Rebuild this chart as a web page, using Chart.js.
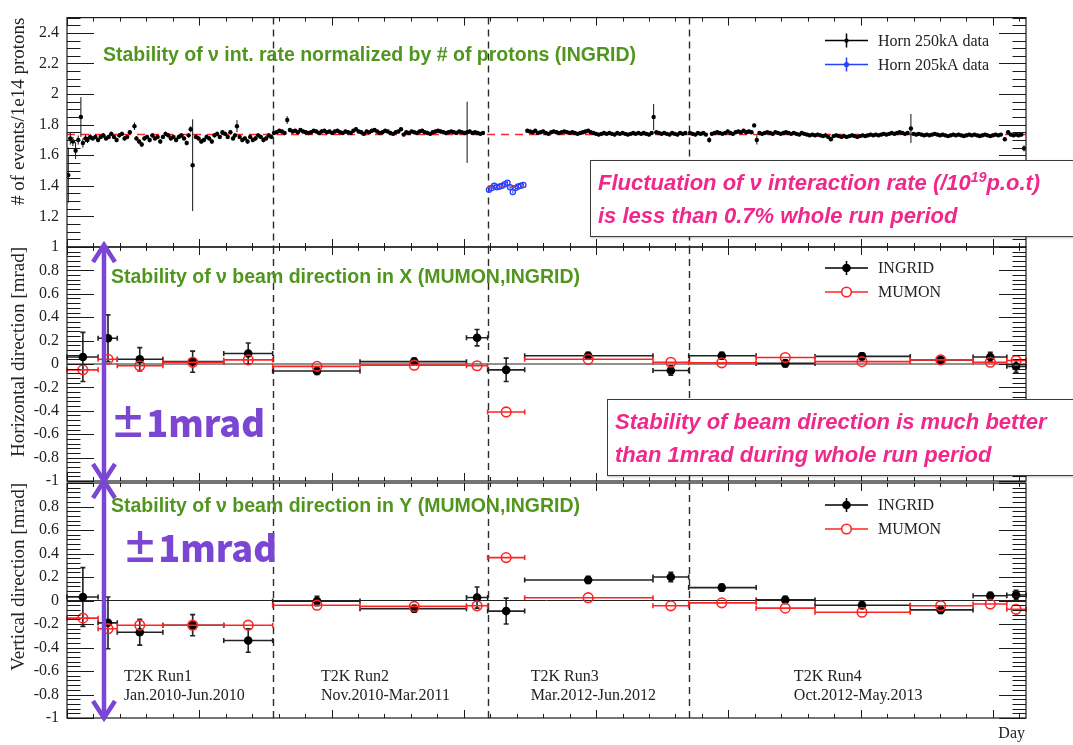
<!DOCTYPE html>
<html>
<head>
<meta charset="utf-8">
<title>T2K beam stability</title>
<script src="https://cdn.jsdelivr.net/npm/chart.js@4.4.1/dist/chart.umd.min.js"></script>
<style>
  html, body { margin: 0; padding: 0; background: #fff; }
  #wrap { position: relative; width: 1073px; height: 745px; overflow: hidden; background: #fff; }
  #wrap canvas { position: absolute; left: 0; top: 0; }
  .note { position: absolute; box-sizing: border-box; background: #fff; border: 1.5px solid #3c3c3c;
          box-shadow: 1px 1px 2px rgba(0,0,0,0.25); color: #f0288c;
          font: italic bold 22px "Liberation Sans", Arial, sans-serif; line-height: 33px;
          padding: 5px 0 0 7px; white-space: nowrap; }
  .note sup { font-size: 14px; line-height: 0; vertical-align: 8px; }
</style>
</head>
<body>
<div id="wrap">
  <canvas id="rate" width="1073" height="745"></canvas>
  <canvas id="dirx" width="1073" height="745"></canvas>
  <canvas id="diry" width="1073" height="745"></canvas>
  <div class="note" style="left:590px;top:160px;width:520px;height:77px;">Fluctuation of ν interaction rate (/10<sup>19</sup>p.o.t)<br>is less than 0.7% whole run period</div>
  <div class="note" style="left:607px;top:399px;width:520px;height:77px;">Stability of beam direction is much better<br>than 1mrad during whole run period</div>
</div>
<script>
// ---- time axis (days since start of Run1) ----
const DAY_MIN = 0, DAY_MAX = 1450;
const DAY_MAJOR = 200, DAY_MINOR_DIV = 5;
const RUN_BOUNDARY_DAY = [311, 636, 940];
const RUN_NAMES = ['T2K Run1', 'T2K Run2', 'T2K Run3', 'T2K Run4'];
const RUN_PERIODS = ['Jan.2010-Jun.2010', 'Nov.2010-Mar.2011', 'Mar.2012-Jun.2012', 'Oct.2012-May.2013'];
const RUN_LABEL_DAY = [86, 384, 701, 1099];

// ---- y tick labels ----
const RATE_TICKS = [1.2, 1.4, 1.6, 1.8, 2, 2.2, 2.4];
const DIRX_TICKS = [-1, -0.8, -0.6, -0.4, -0.2, 0, 0.2, 0.4, 0.6, 0.8, 1];
const DIRY_TICKS = [-1, -0.8, -0.6, -0.4, -0.2, 0, 0.2, 0.4, 0.6, 0.8];

// ---- interaction rate: [day, events / 1e14 protons, error] ----
const RATE_250_RUN1 = [
  [2,1.47,0.18],[5,1.71,0.04],[9,1.69,0.03],[13,1.63,0.055],[17,1.70,0.03],[21,1.85,0.13],[24,1.68,0.03],
  [28,1.71,0.025],[31,1.70,0.02],[35,1.72,0.02],[39,1.71,0.015],[43,1.72,0.015],[47,1.70,0.015],[51,1.72,0.015],
  [55,1.73,0.015],[59,1.71,0.015],[63,1.72,0.015],[67,1.74,0.015],[71,1.72,0.015],[75,1.70,0.015],[79,1.73,0.015],
  [83,1.74,0.015],[87,1.71,0.015],[91,1.72,0.015],[95,1.75,0.015],[102,1.79,0.025],[105,1.71,0.015],[109,1.69,0.015],
  [113,1.67,0.015],[117,1.71,0.015],[121,1.72,0.015],[125,1.70,0.015],[129,1.73,0.015],[133,1.71,0.015],[137,1.72,0.015],
  [141,1.69,0.015],[145,1.72,0.015],[149,1.74,0.015],[153,1.73,0.015],[157,1.71,0.015],[161,1.72,0.015],[165,1.70,0.015],
  [169,1.72,0.015],[173,1.73,0.015],[177,1.71,0.015],[181,1.68,0.015],[184,1.73,0.015],[187,1.77,0.02],[190,1.535,0.30],
  [195,1.72,0.015],[199,1.71,0.015],[203,1.69,0.015],[207,1.70,0.015],[211,1.72,0.015],[215,1.71,0.015],[219,1.69,0.015],
  [223,1.73,0.015],[227,1.74,0.015],[231,1.72,0.015],[235,1.75,0.015],[239,1.74,0.015],[243,1.72,0.015],[247,1.75,0.015],
  [251,1.71,0.015],[254,1.73,0.015],[257,1.79,0.04],[261,1.72,0.015],[265,1.70,0.015],[269,1.71,0.015],[273,1.69,0.015],
  [277,1.72,0.015],[281,1.70,0.015],[285,1.71,0.015],[289,1.73,0.015],[293,1.72,0.015],[297,1.70,0.015],[301,1.71,0.015],
  [305,1.73,0.015],[309,1.72,0.015]
];
const RATE_250_RUN2 = [
  [313,1.745,0.012],[317,1.75,0.012],[321,1.76,0.012],[325,1.755,0.012],[329,1.745,0.012],[333,1.83,0.025],[337,1.765,0.012],
  [341,1.755,0.012],[345,1.76,0.012],[349,1.75,0.012],[353,1.765,0.012],[357,1.755,0.012],[361,1.75,0.012],[365,1.745,0.012],
  [369,1.75,0.012],[373,1.76,0.012],[377,1.755,0.012],[381,1.745,0.012],[385,1.755,0.012],[389,1.76,0.012],[393,1.75,0.012],
  [397,1.755,0.012],[401,1.745,0.012],[405,1.755,0.012],[409,1.76,0.012],[413,1.75,0.012],[417,1.745,0.012],[421,1.755,0.012],
  [425,1.75,0.012],[429,1.745,0.012],[433,1.76,0.012],[437,1.77,0.012],[441,1.755,0.012],[445,1.75,0.012],[449,1.74,0.012],
  [453,1.755,0.012],[457,1.75,0.012],[461,1.76,0.012],[465,1.765,0.012],[469,1.755,0.012],[473,1.745,0.012],[477,1.75,0.012],
  [481,1.76,0.012],[485,1.755,0.012],[489,1.745,0.012],[493,1.74,0.012],[497,1.75,0.012],[501,1.755,0.012],[505,1.77,0.012],
  [509,1.735,0.012],[513,1.75,0.012],[517,1.745,0.012],[521,1.755,0.012],[525,1.75,0.012],[529,1.745,0.012],[533,1.755,0.012],
  [537,1.76,0.012],[541,1.75,0.012],[545,1.745,0.012],[549,1.74,0.012],[553,1.75,0.012],[557,1.755,0.012],[561,1.76,0.012],
  [565,1.755,0.012],[569,1.75,0.012],[573,1.745,0.012],[577,1.75,0.012],[581,1.755,0.012],[585,1.75,0.012],[589,1.745,0.012],
  [593,1.755,0.012],[597,1.75,0.012],[601,1.745,0.012],[605,1.75,0.2],[609,1.755,0.012],[613,1.745,0.012],[617,1.75,0.012],
  [621,1.745,0.012],[625,1.74,0.012],[629,1.745,0.012]
];
const RATE_250_RUN3 = [
  [696,1.76,0.012],[700,1.755,0.012],[704,1.75,0.012],[708,1.76,0.012],[712,1.745,0.012],[716,1.75,0.012],[720,1.755,0.012],
  [724,1.745,0.012],[728,1.74,0.012],[732,1.75,0.012],[736,1.755,0.012],[740,1.75,0.012],[744,1.745,0.012],[748,1.75,0.012],
  [752,1.755,0.012],[756,1.75,0.012],[760,1.745,0.012],[764,1.75,0.012],[768,1.745,0.012],[772,1.74,0.012],[776,1.745,0.012],
  [780,1.75,0.012],[784,1.755,0.012],[788,1.76,0.012],[792,1.75,0.012],[796,1.745,0.012],[800,1.74,0.012],[804,1.735,0.012],
  [808,1.74,0.012],[812,1.745,0.012],[816,1.74,0.012],[820,1.745,0.012],[824,1.74,0.012],[828,1.735,0.012],[832,1.745,0.012],
  [836,1.74,0.012],[840,1.745,0.012],[844,1.74,0.012],[848,1.735,0.012],[852,1.74,0.012],[856,1.745,0.012],[860,1.74,0.012],
  [864,1.745,0.012],[868,1.74,0.012],[872,1.745,0.012],[876,1.74,0.012],[880,1.735,0.012],[884,1.745,0.012],[887,1.85,0.085],
  [891,1.75,0.012],[895,1.745,0.012],[899,1.74,0.012],[903,1.745,0.012],[907,1.74,0.012],[911,1.735,0.012],[915,1.745,0.012],
  [919,1.74,0.012],[923,1.735,0.012],[927,1.745,0.012],[931,1.74,0.012],[935,1.745,0.012]
];
const RATE_250_RUN4 = [
  [942,1.745,0.012],[946,1.74,0.012],[950,1.735,0.012],[954,1.745,0.012],[958,1.74,0.012],[962,1.745,0.012],[966,1.735,0.012],
  [971,1.70,0.018],[975,1.74,0.012],[979,1.745,0.012],[983,1.75,0.012],[987,1.745,0.012],[991,1.74,0.012],[995,1.745,0.012],
  [999,1.755,0.012],[1003,1.745,0.012],[1007,1.74,0.012],[1011,1.75,0.012],[1015,1.755,0.012],[1019,1.75,0.012],[1023,1.76,0.012],
  [1027,1.75,0.012],[1031,1.755,0.012],[1035,1.75,0.012],[1039,1.795,0.012],[1043,1.70,0.03],[1047,1.745,0.012],[1051,1.74,0.012],
  [1055,1.745,0.012],[1059,1.75,0.012],[1063,1.745,0.012],[1067,1.74,0.012],[1071,1.75,0.012],[1075,1.745,0.012],[1079,1.74,0.012],
  [1083,1.745,0.012],[1087,1.75,0.012],[1091,1.745,0.012],[1095,1.74,0.012],[1099,1.745,0.012],[1103,1.74,0.012],[1107,1.735,0.012],
  [1111,1.745,0.012],[1115,1.74,0.012],[1119,1.735,0.012],[1123,1.73,0.012],[1127,1.735,0.012],[1131,1.73,0.012],[1135,1.735,0.012],
  [1139,1.73,0.012],[1143,1.725,0.012],[1147,1.73,0.012],[1151,1.72,0.012],[1155,1.705,0.012],[1159,1.725,0.012],[1163,1.73,0.012],
  [1167,1.725,0.012],[1171,1.72,0.012],[1175,1.725,0.012],[1179,1.72,0.012],[1183,1.725,0.012],[1187,1.73,0.012],[1191,1.725,0.012],
  [1195,1.72,0.012],[1199,1.725,0.012],[1203,1.73,0.012],[1207,1.725,0.012],[1211,1.73,0.012],[1215,1.735,0.012],[1219,1.73,0.012],
  [1223,1.735,0.012],[1227,1.73,0.012],[1231,1.735,0.012],[1235,1.74,0.012],[1239,1.735,0.012],[1243,1.74,0.012],[1247,1.745,0.012],
  [1251,1.74,0.012],[1255,1.745,0.012],[1259,1.75,0.012],[1263,1.745,0.012],[1267,1.74,0.012],[1271,1.745,0.012],[1276,1.775,0.095],
  [1280,1.74,0.012],[1284,1.735,0.012],[1288,1.74,0.012],[1292,1.735,0.012],[1296,1.73,0.012],[1300,1.735,0.012],[1304,1.73,0.012],
  [1308,1.735,0.012],[1312,1.74,0.012],[1316,1.735,0.012],[1320,1.73,0.012],[1324,1.735,0.012],[1328,1.73,0.012],[1332,1.725,0.012],
  [1336,1.73,0.012],[1340,1.735,0.012],[1344,1.73,0.012],[1348,1.735,0.012],[1352,1.73,0.012],[1356,1.725,0.012],[1360,1.73,0.012],
  [1364,1.735,0.012],[1368,1.73,0.012],[1372,1.735,0.012],[1376,1.73,0.012],[1380,1.725,0.012],[1384,1.73,0.012],[1388,1.735,0.012],
  [1392,1.73,0.012],[1396,1.725,0.012],[1400,1.73,0.012],[1404,1.735,0.012],[1408,1.73,0.012],[1412,1.735,0.012],[1418,1.705,0.012],
  [1423,1.75,0.012],[1427,1.735,0.012],[1431,1.73,0.012],[1435,1.735,0.012],[1439,1.73,0.012],[1443,1.735,0.012],[1447,1.645,0.02]
];
const RATE_205 = [
  [638,1.375,0.01],[642,1.385,0.01],[646,1.40,0.01],[650,1.39,0.01],[654,1.395,0.01],[658,1.40,0.01],[662,1.41,0.01],
  [666,1.42,0.01],[670,1.39,0.01],[674,1.36,0.01],[678,1.385,0.01],[682,1.395,0.01],[686,1.40,0.01],[690,1.405,0.01]
];
const RATE_MEAN_250 = 1.735;
const RATE_MEAN_205 = 1.39;
const RATE_205_SPAN = [636, 692];

// ---- beam direction per period [mrad] ----
const DIR_DAY = [24, 62, 110, 190, 274, 378, 525, 620, 664, 788, 913, 990, 1086, 1202, 1321, 1396, 1435];
const DIR_LO  = [0, 47, 76, 145, 237, 311, 443, 604, 636, 692, 886, 940, 1042, 1131, 1275, 1370, 1421];
const DIR_HI  = [47, 76, 145, 237, 311, 443, 604, 636, 692, 886, 940, 1042, 1131, 1275, 1370, 1421, 1450];
const INGRID_X     = [0.06, 0.22, 0.04, 0.02, 0.09, -0.06, 0.02, 0.225, -0.05, 0.07, -0.055, 0.07, 0.005, 0.065, 0.035, 0.06, -0.02];
const INGRID_X_ERR = [0.21, 0.20, 0.10, 0.09, 0.09, 0.03, 0.03, 0.07, 0.10, 0.03, 0.04, 0.03, 0.03, 0.03, 0.03, 0.04, 0.05];
const MUMON_X      = [-0.05, 0.04, -0.015, 0.015, 0.035, -0.02, -0.01, -0.015, -0.41, 0.04, 0.015, 0.01, 0.055, 0.02, 0.035, 0.015, 0.03];
const INGRID_Y     = [0.03, -0.19, -0.27, -0.21, -0.34, -0.005, -0.07, 0.025, -0.09, 0.175, 0.2, 0.11, 0.005, -0.04, -0.08, 0.04, 0.047];
const INGRID_Y_ERR = [0.25, 0.22, 0.11, 0.09, 0.10, 0.04, 0.03, 0.09, 0.11, 0.03, 0.04, 0.03, 0.03, 0.03, 0.03, 0.03, 0.04];
const MUMON_Y      = [-0.15, -0.24, -0.21, -0.21, -0.21, -0.04, -0.05, -0.045, 0.365, 0.024, -0.045, -0.02, -0.065, -0.10, -0.045, -0.03, -0.075];

// ---- colours & fonts ----
const C_TEXT = '#222', C_GREEN = '#50961e', C_PURPLE = '#7b46d3', C_RED = '#ff2424', C_BLUE = '#2442ff';
const SERIF = '"Liberation Serif", "Times New Roman", serif';

const fmt = v => String(Number(v.toFixed(2)));
const ratePoints = arr => arr.map(([d, v, e]) => ({ x: d, y: v, ey: e }));
const binPoints = (vals, errs) => DIR_DAY.map((d, i) => ({ x: d, y: vals[i], xl: DIR_LO[i], xh: DIR_HI[i], ey: errs ? errs[i] : 0 }));
const flatLine = (x0, x1, v) => [{ x: x0, y: v }, { x: x1, y: v }];

// per-panel decoration settings, keyed by canvas id
const DECO = {
  rate: { yMin: 1, yMax: 2.5, yMinor: 0.05, yDiv: 4,
          headline: 'Stability of ν int. rate normalized by # of protons (INGRID)', headX: 36, headDy: 38, legendTop: 23 },
  dirx: { yMin: -1, yMax: 1, yMinor: 0.04, yDiv: 5,
          headline: 'Stability of ν beam direction in X (MUMON,INGRID)', headX: 44, headDy: 31, legendTop: 21,
          pm: { dx: 43, dy: 176 } },
  diry: { yMin: -1, yMax: 1, yMinor: 0.04, yDiv: 5,
          headline: 'Stability of ν beam direction in Y (MUMON,INGRID)', headX: 44, headDy: 24, legendTop: 22,
          pm: { dx: 55, dy: 65 }, runLabels: true }
};

function drawArrow(ctx, x, y0, y1) {
  ctx.save();
  ctx.strokeStyle = C_PURPLE; ctx.lineWidth = 4.5; ctx.lineCap = 'butt'; ctx.lineJoin = 'miter';
  ctx.setLineDash([]);
  ctx.beginPath(); ctx.moveTo(x, y0 + 2); ctx.lineTo(x, y1 - 2); ctx.stroke();
  ctx.beginPath();
  ctx.moveTo(x - 11, y0 + 17); ctx.lineTo(x, y0); ctx.lineTo(x + 11, y0 + 17);
  ctx.moveTo(x - 11, y1 - 17); ctx.lineTo(x, y1); ctx.lineTo(x + 11, y1 - 17);
  ctx.stroke();
  ctx.restore();
}

function drawWideText(ctx, text, x, y, width) {
  const w = ctx.measureText(text).width;
  ctx.save(); ctx.translate(x, y); ctx.scale(width / w, 1); ctx.fillText(text, 0, 0); ctx.restore();
}

function drawTicks(chart, c) {
  const { ctx, chartArea: a, scales: { x, y } } = chart;
  ctx.save();
  ctx.setLineDash([]);
  ctx.strokeStyle = '#1a1a1a';
  ctx.lineWidth = 1;
  const ny = Math.round((c.yMax - c.yMin) / c.yMinor);
  for (let i = 0; i <= ny; i++) {
    const py = Math.round(y.getPixelForValue(c.yMin + i * c.yMinor)) + 0.5;
    const len = (i % c.yDiv === 0) ? 27 : 13.5;
    ctx.beginPath();
    ctx.moveTo(a.left, py); ctx.lineTo(a.left + len, py);
    ctx.moveTo(a.right, py); ctx.lineTo(a.right - len, py);
    ctx.stroke();
  }
  const xMinor = DAY_MAJOR / DAY_MINOR_DIV;
  const nx = Math.floor((DAY_MAX - DAY_MIN) / xMinor);
  for (let i = 0; i <= nx; i++) {
    const px = Math.round(x.getPixelForValue(DAY_MIN + i * xMinor)) + 0.5;
    const len = (i % DAY_MINOR_DIV === 0) ? 8 : 4;
    ctx.beginPath();
    ctx.moveTo(px, a.top); ctx.lineTo(px, a.top + len);
    ctx.moveTo(px, a.bottom); ctx.lineTo(px, a.bottom - len);
    ctx.stroke();
  }
  ctx.lineWidth = 1.2;
  ctx.strokeRect(a.left, a.top, a.right - a.left, a.bottom - a.top);
  ctx.restore();
}

// ROOT-like frame: inward ticks on all four sides, run boundaries, headline, legend, extras
const rootStyle = {
  id: 'rootStyle',
  beforeDatasetsDraw(chart) {
    const { ctx, chartArea: a, scales: { x } } = chart;
    ctx.save();
    ctx.strokeStyle = '#2a2a2a'; ctx.lineWidth = 1.4; ctx.setLineDash([7, 5]);
    RUN_BOUNDARY_DAY.forEach(d => {
      const px = Math.round(x.getPixelForValue(d)) + 0.5;
      ctx.beginPath(); ctx.moveTo(px, a.top); ctx.lineTo(px, a.bottom); ctx.stroke();
    });
    ctx.restore();
  },
  beforeDatasetDraw(chart, args) {
    const ds = chart.data.datasets[args.index];
    if (!ds.errorBar) return;
    const { ctx, scales: { x, y } } = chart;
    const eb = ds.errorBar;
    ctx.save();
    ctx.setLineDash([]);
    ctx.strokeStyle = eb.color; ctx.lineWidth = eb.width;
    ctx.beginPath();
    ds.data.forEach(p => {
      const px = x.getPixelForValue(p.x), py = y.getPixelForValue(p.y);
      if (p.xl !== undefined) {
        const l = x.getPixelForValue(p.xl), r = x.getPixelForValue(p.xh);
        ctx.moveTo(l, py); ctx.lineTo(r, py);
        if (eb.cap) { ctx.moveTo(l, py - eb.cap); ctx.lineTo(l, py + eb.cap); ctx.moveTo(r, py - eb.cap); ctx.lineTo(r, py + eb.cap); }
      }
      if (p.ey) {
        const t = y.getPixelForValue(p.y + p.ey), b = y.getPixelForValue(p.y - p.ey);
        ctx.moveTo(px, t); ctx.lineTo(px, b);
        if (eb.cap) { ctx.moveTo(px - eb.cap, t); ctx.lineTo(px + eb.cap, t); ctx.moveTo(px - eb.cap, b); ctx.lineTo(px + eb.cap, b); }
      }
    });
    ctx.stroke();
    ctx.restore();
  },
  afterDraw(chart) {
    const c = DECO[chart.canvas.id];
    const { ctx, chartArea: a, scales: { x } } = chart;
    drawTicks(chart, c);

    ctx.save();
    ctx.setLineDash([]);
    // headline
    ctx.fillStyle = C_GREEN; ctx.font = 'bold 19.5px "Liberation Sans", Arial, sans-serif';
    ctx.textBaseline = 'middle'; ctx.textAlign = 'left';
    ctx.fillText(c.headline, a.left + c.headX, a.top + c.headDy);

    // legend
    const lx0 = a.right - 201, lx1 = a.right - 158, lxm = (lx0 + lx1) / 2, tx = a.right - 148;
    chart.data.datasets.filter(d => d.legendMarker).forEach((d, i) => {
      const ly = a.top + c.legendTop + i * 24;
      const col = d.pointBorderColor || d.borderColor;
      ctx.strokeStyle = col; ctx.lineWidth = 1.5;
      ctx.beginPath(); ctx.moveTo(lx0, ly); ctx.lineTo(lx1, ly);
      if (d.legendMarker !== 'open') { ctx.moveTo(lxm, ly - 7); ctx.lineTo(lxm, ly + 7); }
      ctx.stroke();
      ctx.beginPath(); ctx.arc(lxm, ly, d.pointRadius, 0, Math.PI * 2);
      if (d.legendMarker === 'open') { ctx.fillStyle = '#fff'; ctx.fill(); ctx.lineWidth = d.pointBorderWidth; ctx.stroke(); }
      else { ctx.fillStyle = col; ctx.fill(); }
      ctx.fillStyle = C_TEXT; ctx.font = '16px ' + SERIF; ctx.textBaseline = 'middle';
      ctx.fillText(d.label, tx, ly + 1);
    });

    // run labels and axis caption
    if (c.runLabels) {
      ctx.fillStyle = C_TEXT; ctx.font = '16px ' + SERIF; ctx.textBaseline = 'middle';
      RUN_NAMES.forEach((name, i) => {
        const px = x.getPixelForValue(RUN_LABEL_DAY[i]);
        ctx.fillText(name, px, a.top + 194);
        ctx.fillText(RUN_PERIODS[i], px, a.top + 213);
      });
      ctx.textAlign = 'right';
      ctx.fillText('Day', a.right - 1, a.bottom + 16);
      ctx.textAlign = 'left';
    }

    // ±1 mrad band marker
    if (c.pm) {
      drawArrow(ctx, a.left + 37, a.top - 2, a.bottom);
      ctx.fillStyle = C_PURPLE; ctx.font = '900 37px "Noto Sans CJK JP", sans-serif'; ctx.textBaseline = 'middle';
      drawWideText(ctx, '±1mrad', a.left + c.pm.dx, a.top + c.pm.dy, 155);
    }
    ctx.restore();
  }
};

function yAxis(id, ticks, title) {
  const c = DECO[id];
  return {
    type: 'linear', min: c.yMin, max: c.yMax,
    afterFit(s) { s.width = 67; },
    afterBuildTicks(s) { s.ticks = ticks.map(v => ({ value: v })); },
    ticks: { autoSkip: false, padding: 8, color: C_TEXT, font: { family: SERIF, size: 16 }, callback: v => fmt(v) },
    grid: { display: false, drawTicks: false },
    border: { display: false },
    title: { display: true, text: title, align: 'end', color: C_TEXT, font: { family: SERIF, size: 19 }, padding: { top: 8, bottom: 0 } }
  };
}

function panel(id, top, bottom, ticks, title, datasets) {
  return new Chart(document.getElementById(id), {
    type: 'scatter',
    data: { datasets },
    options: {
      responsive: false, animation: false, devicePixelRatio: 1, events: [],
      layout: { padding: { left: 0, right: 47, top, bottom: 745 - bottom } },
      plugins: { legend: { display: false }, tooltip: { enabled: false } },
      scales: { x: { type: 'linear', min: DAY_MIN, max: DAY_MAX, display: false }, y: yAxis(id, ticks, title) }
    },
    plugins: [rootStyle]
  });
}

// interaction rate
panel('rate', 10, 247, RATE_TICKS, '# of events/1e14 protons', [
  { label: 'Horn 250kA data', data: ratePoints([...RATE_250_RUN1, ...RATE_250_RUN2, ...RATE_250_RUN3, ...RATE_250_RUN4]),
    pointRadius: 2.2, pointBackgroundColor: '#000', pointBorderWidth: 0, borderColor: '#000',
    errorBar: { color: '#111', width: 1, cap: 0 }, legendMarker: 'dot', order: 2 },
  { label: 'Horn 205kA data', data: ratePoints(RATE_205),
    pointRadius: 2.6, pointBackgroundColor: 'rgba(255,255,255,0)', pointBorderColor: C_BLUE, pointBorderWidth: 1.3, borderColor: C_BLUE,
    errorBar: { color: C_BLUE, width: 1, cap: 0 }, legendMarker: 'dot', order: 1 },
  { type: 'line', showLine: true, data: flatLine(DAY_MIN, DAY_MAX, RATE_MEAN_250), borderColor: C_RED, borderWidth: 1.5,
    borderDash: [8, 6], pointRadius: 0, order: 3 },
  { type: 'line', showLine: true, data: flatLine(RATE_205_SPAN[0], RATE_205_SPAN[1], RATE_MEAN_205), borderColor: C_RED, borderWidth: 1.5,
    borderDash: [6, 5], pointRadius: 0, order: 0 }
]);

function directionSets(ingrid, ingridErr, mumon) {
  return [
    { label: 'INGRID', data: binPoints(ingrid, ingridErr), pointRadius: 4.3, pointBackgroundColor: '#000', pointBorderWidth: 0,
      borderColor: '#000', errorBar: { color: '#222', width: 1.6, cap: 2.5 }, legendMarker: 'dot', order: 2 },
    { label: 'MUMON', data: binPoints(mumon, null), pointRadius: 4.8, pointBackgroundColor: 'rgba(255,255,255,0)',
      pointBorderColor: C_RED, pointBorderWidth: 1.6, borderColor: C_RED, errorBar: { color: C_RED, width: 1.6, cap: 2.5 },
      legendMarker: 'open', order: 1 },
    { type: 'line', showLine: true, data: flatLine(DAY_MIN, DAY_MAX, 0), borderColor: '#222', borderWidth: 1, pointRadius: 0, order: 4 }
  ];
}

panel('dirx', 247, 481, DIRX_TICKS, 'Horizontal direction [mrad]', directionSets(INGRID_X, INGRID_X_ERR, MUMON_X));
panel('diry', 483, 718, DIRY_TICKS, 'Vertical direction [mrad]', directionSets(INGRID_Y, INGRID_Y_ERR, MUMON_Y));
</script>
</body>
</html>
